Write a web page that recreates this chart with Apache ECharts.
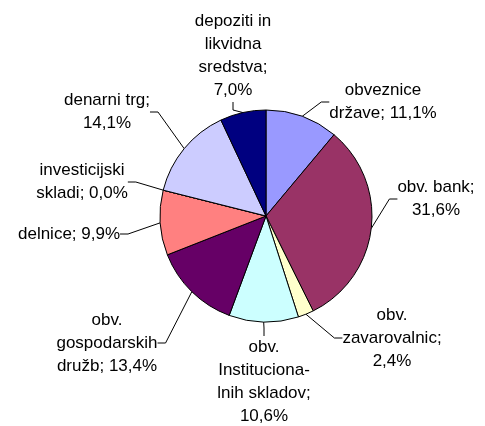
<!DOCTYPE html>
<html>
<head>
<meta charset="utf-8">
<script src="https://cdn.jsdelivr.net/npm/echarts@6/dist/echarts.min.js"></script>
<style>html,body{margin:0;padding:0;background:#fff;}#c{width:485px;height:426px;}</style>
</head>
<body>
<div id="c"></div>
<script>
// Data
var categories = [
  "obveznice\ndržave",
  "obv. bank",
  "obv.\nzavarovalnic",
  "obv.\nInstituciona-\nlnih skladov",
  "obv.\ngospodarskih\ndružb",
  "delnice",
  "investicijski\nskladi",
  "denarni trg",
  "depoziti in\nlikvidna\nsredstva"
];
var values = [11.1, 31.6, 2.4, 10.6, 13.4, 9.9, 0.0, 14.1, 7.0];
var valueSeparators = [" ", "\n", "\n", "\n", " ", " ", " ", "\n", "\n"];
var colors = ["#9999FF", "#993366", "#FFFFCC", "#CCFFFF", "#660066", "#FF8080", "#0066CC", "#CCCCFF", "#000080"];
// label placement (layout, centre of each label block)
var labelSpots = [[383,102],[436,199],[392,338],[264,382],[107,343],[69,234],[82,182],[107,112],[233,56]];

var chart = echarts.init(document.getElementById('c'), null, {renderer:'canvas'});
var data = categories.map(function(n,i){
  return {name:n, value:values[i], itemStyle:{color:colors[i]}};
});
chart.setOption({
  animation:false,
  backgroundColor:'#fff',
  series:[{
    type:'pie',
    center:[266,216],
    radius:[0,106],
    startAngle:90,
    clockwise:true,
    avoidLabelOverlap:false,
    stillShowZeroSum:true,
    minShowLabelAngle:0,
    data:data,
    itemStyle:{borderColor:'#000', borderWidth:1},
    label:{
      show:true,
      position:'outside',
      fontFamily:'Liberation Sans, Arial, sans-serif',
      fontSize:17,
      lineHeight:23,
      color:'#000',
      align:'center',
      formatter:function(p){
        return p.name + ';' + valueSeparators[p.dataIndex] + values[p.dataIndex].toFixed(1).replace('.', ',') + '%';
      }
    },
    labelLine:{show:true, length:10, length2:8, lineStyle:{color:'#000', width:1}},
    labelLayout:function(p){
      var s = labelSpots[p.dataIndex];
      return {x:s[0], y:s[1], align:'center', verticalAlign:'middle'};
    },
    emphasis:{disabled:true}
  }]
});
</script>
</body>
</html>
